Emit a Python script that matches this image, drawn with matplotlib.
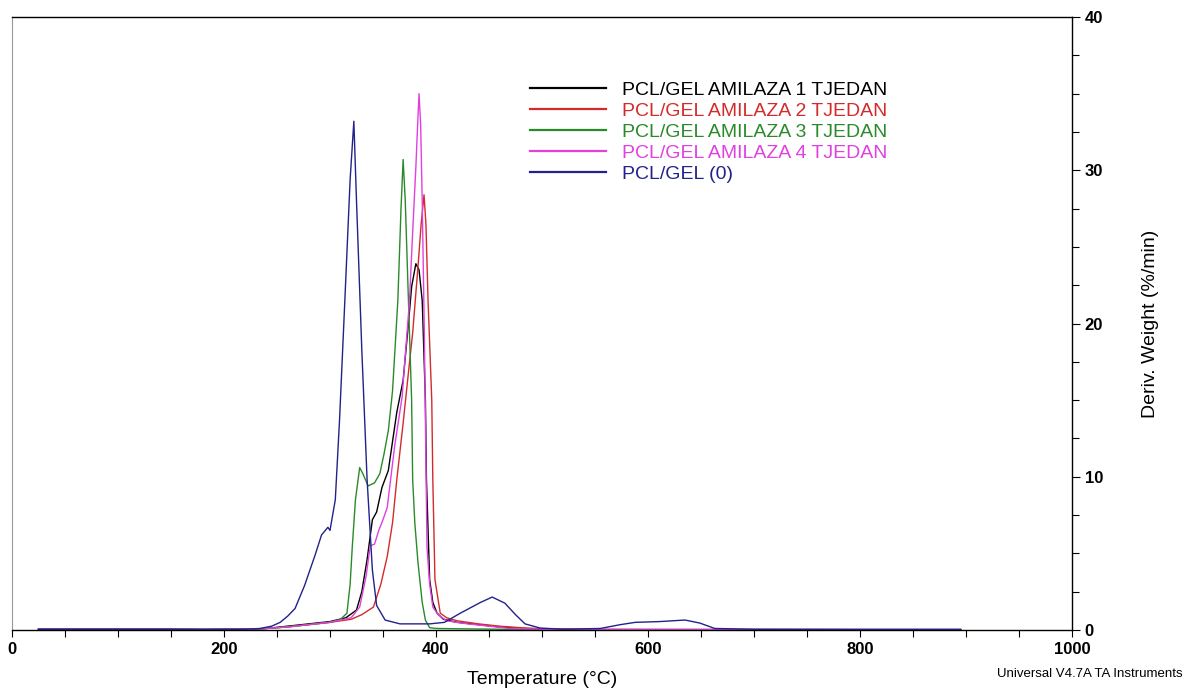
import numpy as np
import matplotlib
matplotlib.use("Agg")
import matplotlib.pyplot as plt
from matplotlib.ticker import MultipleLocator

plt.rcParams['font.family'] = ['Liberation Sans', 'DejaVu Sans']

# temperature (C) / deriv. weight (%/min)
t_w1 = [25, 60, 100, 140, 180, 220, 240, 260, 280, 300, 315, 325, 330, 335, 340, 344, 349, 355,
        363, 369, 374, 377, 381, 384, 387, 390, 391, 394, 397, 401, 407, 420, 440, 460, 480, 500,
        540, 600, 700, 800, 895]
y_w1 = [0.05, 0.05, 0.05, 0.05, 0.03, 0.05, 0.1, 0.25, 0.4, 0.55, 0.8, 1.3, 2.5, 4.6, 7.2, 7.7, 9.3, 10.4,
        14.2, 16.3, 20.0, 22.4, 23.9, 23.5, 21.5, 15.0, 9.8, 3.3, 1.8, 1.1, 0.7, 0.5, 0.35, 0.2, 0.1, 0.05,
        0.03, 0.03, 0.03, 0.02, 0.02]

t_w2 = [25, 60, 100, 140, 180, 220, 240, 260, 280, 300, 320, 330, 341, 348, 354, 359, 363, 369, 374,
        378, 383, 386, 388.7, 390.5, 392.5, 396, 397, 399, 404, 410, 420, 440, 460, 480, 500, 540,
        600, 700, 800, 895]
y_w2 = [0.05, 0.05, 0.05, 0.05, 0.03, 0.05, 0.1, 0.2, 0.35, 0.5, 0.7, 1.0, 1.5, 3.0, 4.8, 7.0, 9.8, 13.5, 16.8,
        19.4, 23.7, 26.5, 28.4, 26.5, 21.5, 15.0, 9.8, 3.3, 1.1, 0.8, 0.6, 0.4, 0.25, 0.15, 0.08, 0.04,
        0.03, 0.03, 0.02, 0.02]

t_w3 = [25, 60, 100, 140, 180, 220, 240, 260, 280, 300, 310, 316, 319, 321, 324, 328, 331, 336, 342,
        347, 351, 355, 359, 364, 367, 369, 371, 374, 377, 378, 380, 383, 387, 390, 394, 400, 420,
        460, 500, 600, 700, 800, 895]
y_w3 = [0.05, 0.05, 0.05, 0.05, 0.03, 0.05, 0.1, 0.2, 0.35, 0.5, 0.7, 1.1, 3.0, 5.4, 8.5, 10.6, 10.2, 9.4, 9.6,
        10.2, 11.5, 13.0, 15.6, 21.5, 27.5, 30.7, 28.0, 21.5, 15.0, 9.8, 7.0, 4.4, 1.8, 0.65, 0.15, 0.1, 0.08,
        0.05, 0.03, 0.02, 0.02, 0.02, 0.02]

t_w4 = [25, 60, 100, 140, 180, 220, 240, 260, 280, 300, 320, 328, 334, 338, 342, 346, 350, 354, 361,
        368, 375, 378, 381, 383, 384, 385.5, 387, 389, 391.5, 394, 397, 402, 410, 430, 450, 470, 500,
        540, 600, 700, 800, 895]
y_w4 = [0.05, 0.05, 0.05, 0.05, 0.03, 0.05, 0.1, 0.2, 0.35, 0.5, 0.8, 1.5, 3.5, 5.5, 5.6, 6.5, 7.2, 8.0, 12.0,
        15.2, 21.5, 26.0, 30.2, 33.5, 35.0, 33.0, 28.0, 19.4, 5.4, 3.0, 1.5, 1.0, 0.6, 0.4, 0.25, 0.1, 0.05,
        0.03, 0.03, 0.02, 0.02, 0.02]

t_w0 = [25, 60, 100, 140, 180, 220, 234, 245, 253, 260, 267, 276, 286, 292, 298, 300, 305, 309, 314,
        319, 322.5, 325, 330, 335, 340, 344, 352, 366, 394, 408, 423, 442, 453, 465, 475, 484, 498,
        520, 555, 574, 588, 611, 635, 649, 663, 700, 800, 895]
y_w0 = [0.05, 0.05, 0.05, 0.05, 0.05, 0.05, 0.1, 0.25, 0.5, 0.9, 1.4, 2.9, 4.9, 6.2, 6.7, 6.5, 8.5, 13.7, 21.5,
        29.4, 33.2, 28.0, 18.3, 9.8, 3.9, 1.6, 0.65, 0.4, 0.4, 0.5, 1.1, 1.8, 2.15, 1.75, 1.0, 0.4, 0.13,
        0.05, 0.1, 0.35, 0.5, 0.55, 0.65, 0.45, 0.1, 0.05, 0.05, 0.05]

labels = ["PCL/GEL AMILAZA 1 TJEDAN", "PCL/GEL AMILAZA 2 TJEDAN", "PCL/GEL AMILAZA 3 TJEDAN",
          "PCL/GEL AMILAZA 4 TJEDAN", "PCL/GEL (0)"]
colors = ["#000000", "#d42a2a", "#2a8a2a", "#e040e0", "#22228a"]
series = [(t_w1, y_w1), (t_w2, y_w2), (t_w3, y_w3), (t_w4, y_w4), (t_w0, y_w0)]

fig = plt.figure(figsize=(11.93, 6.88), dpi=100)
ax = fig.add_axes([12 / 1193, 58 / 688, 1060 / 1193, 613 / 688])

for (t, y), c, lab in zip(series, colors, labels):
    ax.plot(t, y, color=c, lw=1.0, label=lab)

ax.set_xlim(0, 1000)
ax.set_ylim(0, 40)

ax.xaxis.set_major_locator(MultipleLocator(200))
ax.xaxis.set_minor_locator(MultipleLocator(50))
ax.yaxis.set_major_locator(MultipleLocator(10))
ax.yaxis.set_minor_locator(MultipleLocator(2.5))
ax.yaxis.tick_right()
ax.yaxis.set_label_position("right")
ax.tick_params(axis='x', which='both', direction='out', length=5, width=0.8, labelsize=12, pad=4)
ax.tick_params(axis='y', which='major', direction='out', length=6, width=0.8, labelsize=12, pad=3)
ax.tick_params(axis='y', which='minor', direction='out', length=5, width=0.8)
for lb in ax.get_xticklabels() + ax.get_yticklabels():
    lb.set_fontweight('bold')

ax.spines['left'].set_color('#999999')
for s in ['top', 'bottom', 'right']:
    ax.spines[s].set_color('black')
    ax.spines[s].set_linewidth(1.0)

ax.set_xlabel("Temperature (°C)", fontsize=14, labelpad=10)
ax.set_ylabel("Deriv. Weight (%/min)", fontsize=14, labelpad=28)

leg = ax.legend(loc='upper left', bbox_to_anchor=(0.4887, 0.895), frameon=False, fontsize=14,
                handlelength=3.9, handletextpad=0.85, labelspacing=0.17, borderpad=0, borderaxespad=0,
                labelcolor='linecolor')
for h in leg.get_lines():
    h.set_linewidth(1.6)

fig.text(1183 / 1193, 14 / 688, "Universal V4.7A TA Instruments", ha='right', va='center', fontsize=9.5)

fig.savefig("out.png", dpi=100)
